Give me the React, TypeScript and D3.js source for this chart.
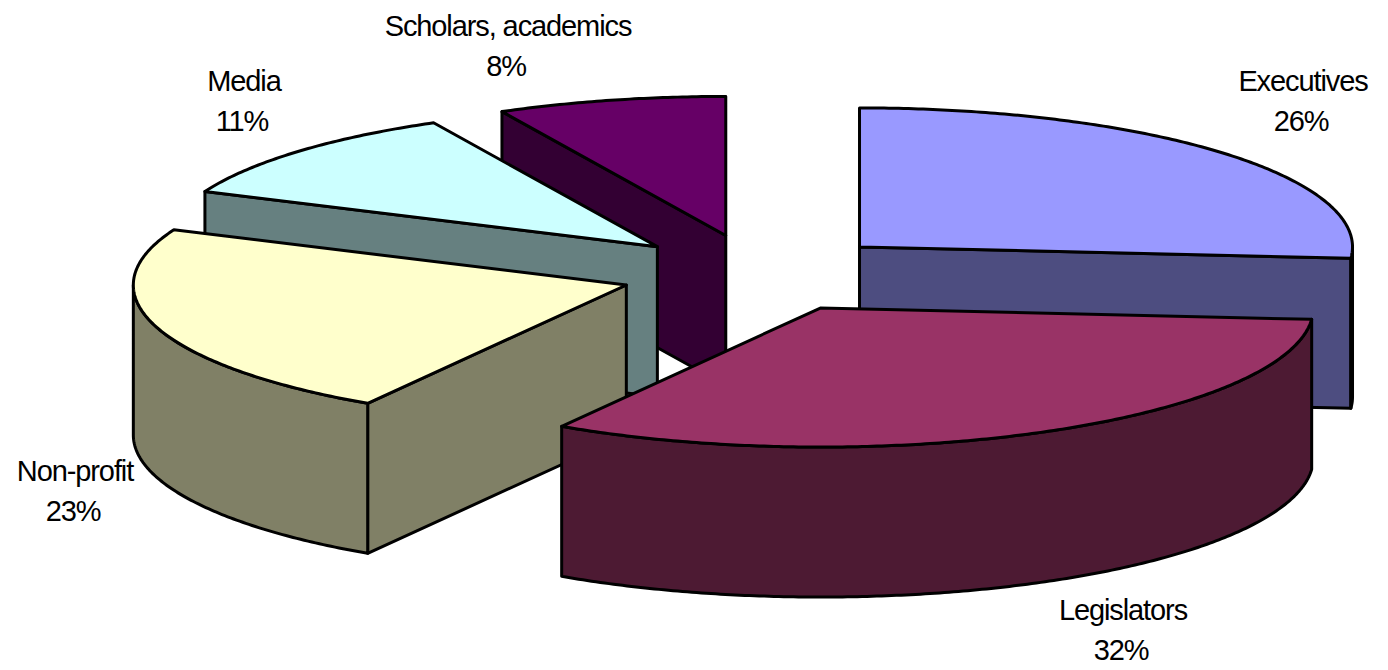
import React from "react";
import * as d3 from "d3";

const categories = ["Executives", "Legislators", "Non-profit", "Media", "Scholars, academics"];
const shares = [26.3, 32.49, 22.71, 11, 7.5];
const topColors = ["#9999FF", "#993366", "#FFFFCC", "#CCFFFF", "#660066"];
const sideColors = ["#4D4D80", "#4D1A33", "#808066", "#668080", "#330033"];
const paintOrder = [4, 3, 2, 0, 1];
const labelAnchors: [number, number][] = [[1303, 91], [1123, 620], [75, 481], [244, 91], [508, 36]];

const W = 1388, H = 670;
const CX = 758, CY = 273.3, RX = 493, RY = 139, DEPTH = 150, EXPLODE = 0.28;
const FONT = 29;

const pie = d3.pie<number>().sort(null).value((d) => d);
const arcs = pie(shares);
const line = d3.line<[number, number]>();

function pt(a: number, r: number, ox: number, oy: number): [number, number] {
  return [ox + r * RX * Math.sin(a), oy - r * RY * Math.cos(a)];
}

function arcPts(a0: number, a1: number, ox: number, oy: number) {
  const n = Math.max(2, Math.ceil(Math.abs(a1 - a0) / 0.01));
  return d3.range(n + 1).map((i) => pt(a0 + ((a1 - a0) * i) / n, 1, ox, oy));
}

function Slice({ i }: { i: number }) {
  const { startAngle: a0, endAngle: a1 } = arcs[i];
  const mid = (a0 + a1) / 2;
  const [ox, oy] = pt(mid, EXPLODE, CX, CY);
  const top: [number, number] = [ox, oy];
  const low: [number, number] = [ox, oy + DEPTH];
  const shift = (p: [number, number]): [number, number] => [p[0], p[1] + DEPTH];
  const stroke = { stroke: "#000", strokeWidth: 3, strokeLinejoin: "round" as const };
  const wall = (a: number) => {
    const p = pt(a, 1, ox, oy);
    return line([top, p, shift(p), low]) + "Z";
  };
  const frontA = Math.max(a0, Math.PI / 2);
  const frontB = Math.min(a1, (3 * Math.PI) / 2);
  const hasFront = frontB > frontA;
  const rim = hasFront ? arcPts(frontA, frontB, ox, oy) : [];
  const rimPath = hasFront ? line([...rim, ...rim.slice().reverse().map(shift)]) + "Z" : "";
  const face = line([top, ...arcPts(a0, a1, ox, oy)]) + "Z";
  const startSeen = a0 > Math.PI && a0 < 2 * Math.PI;
  const endSeen = a1 > 0 && a1 < Math.PI;
  return (
    <g>
      {startSeen && <path d={wall(a0)} fill={sideColors[i]} {...stroke} />}
      {endSeen && <path d={wall(a1)} fill={sideColors[i]} {...stroke} />}
      {hasFront && <path d={rimPath} fill={sideColors[i]} {...stroke} />}
      <path d={face} fill={topColors[i]} {...stroke} />
    </g>
  );
}

export default function App() {
  return (
    <svg width={W} height={H} viewBox={`0 0 ${W} ${H}`} style={{ position: "absolute", left: 0, top: 0, background: "#fff" }}>
      {paintOrder.map((i) => <Slice key={i} i={i} />)}
      {categories.map((c, i) => (
        <text key={c} x={labelAnchors[i][0]} y={labelAnchors[i][1]} textAnchor="middle" fontFamily="'Liberation Sans', Arial, sans-serif" fontSize={FONT} letterSpacing={-1.1} fill="#000">
          <tspan x={labelAnchors[i][0]}>{c}</tspan>
          <tspan x={labelAnchors[i][0] - 2} dy={40}>{d3.format(".0f")(shares[i])}%</tspan>
        </text>
      ))}
    </svg>
  );
}
